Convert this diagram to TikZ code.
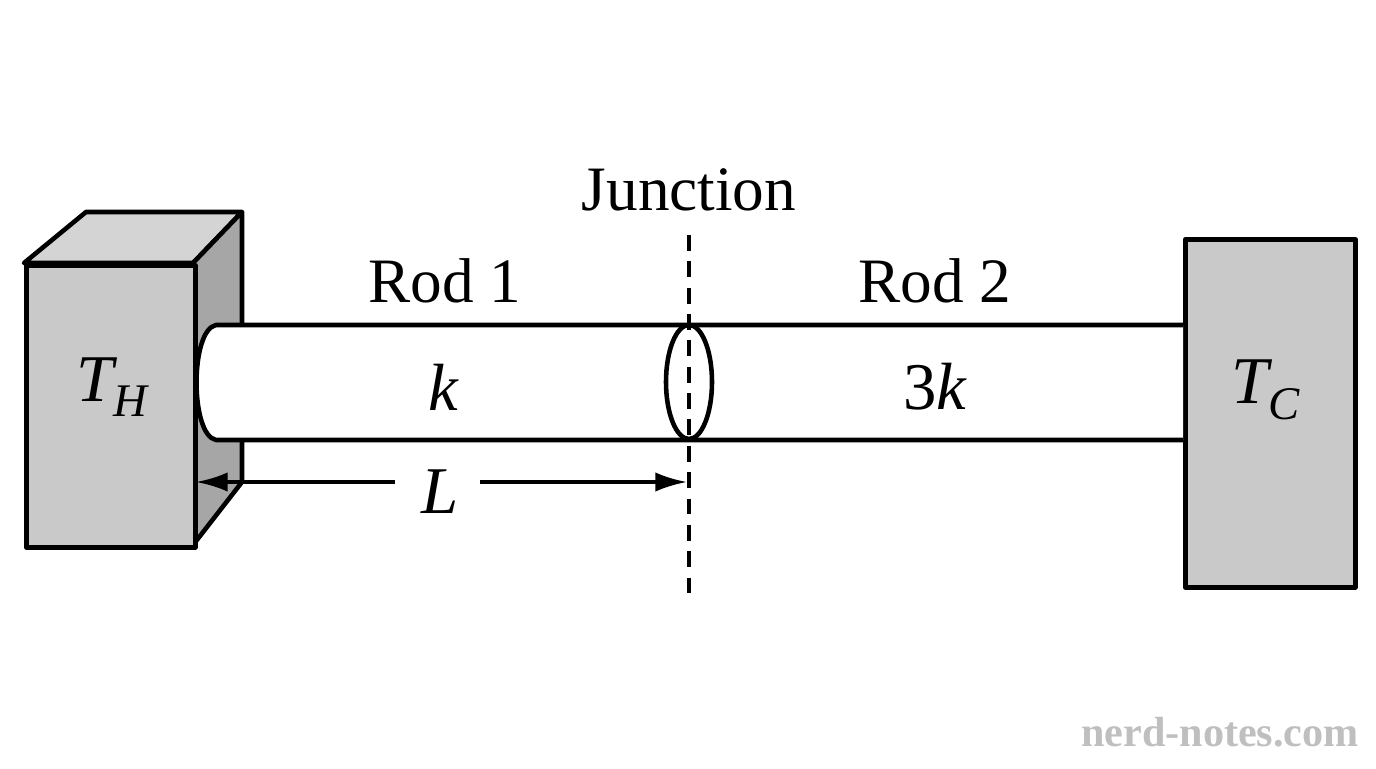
\documentclass[tikz,border=0pt]{standalone}
\usetikzlibrary{shapes.geometric,arrows.meta}
\usepackage{fontspec}
\setmainfont{Liberation Serif}
\begin{document}
\begin{tikzpicture}[x=0.02cm,y=-0.02cm,
  ln/.style={line width=2.6pt,line join=round},
  lbl/.style={font=\fontsize{36}{40}\selectfont,inner sep=0pt},
  it/.style={font=\fontsize{38}{42}\selectfont\itshape,inner sep=0pt}]
\useasboundingbox (0,0) rectangle (1376,768);
% left block
\draw[ln,fill=black!17] (24,263) -- (86,212) -- (242,212) -- (193,263) -- cycle;
\draw[ln,fill=black!35] (193,263) -- (242,212) -- (242,482) -- (193,545) -- cycle;
\node[ln,draw,fill=black!21,minimum width=169*0.02cm,minimum height=282*0.02cm,anchor=north west] (hot) at (24,263) {};
% right block
\node[ln,draw,fill=black!21,minimum width=170*0.02cm,minimum height=348*0.02cm,anchor=north west] (cold) at (1183,237) {};
% rod
\coordinate (rt) at (1183,325);
\coordinate (rb) at (1183,440);
\draw[ln,fill=white] (rt) -- (216,325) .. controls (190,330) and (190,435) .. (216,440) -- (rb);
% junction
\node[ln,draw,ellipse,minimum width=46*0.02cm,minimum height=114*0.02cm,inner sep=0pt] (jn) at (689,382) {};
\coordinate (jt) at (689,235);
\coordinate (jb) at (689,597);
\draw[line width=2pt,dash pattern=on 9pt off 6pt] (jt) -- (jb);
\node[lbl] (jl) at (689,190) {Junction};
\node[lbl] (r1) at (445,281) {Rod 1};
\node[lbl] (r2) at (935,281) {Rod 2};
\node[it] (k1) at (443,387) {k};
\node[font=\fontsize{38}{42}\selectfont,inner sep=0pt] (k2) at (935,387) {3\textit{k}};
\node[it] (th) at (112,387) {T\textsubscript{H}};
\node[it] (tc) at (1266,390) {T\textsubscript{C}};
% dimension
\node[it] (L) at (440,492) {L};
\coordinate (a1) at (196,482);
\coordinate (a2) at (687,482);
\coordinate (lw) at (395,482);
\coordinate (le) at (480,482);
\draw[line width=2pt,-{Latex[length=18pt,width=11pt]}] (lw) -- (a1);
\draw[line width=2pt,-{Latex[length=18pt,width=11pt]}] (le) -- (a2);
\node[font=\fontsize{24}{26}\selectfont\bfseries,text=black!25,inner sep=0pt] (wm) at (1220,732) {nerd-notes.com};
\end{tikzpicture}
\end{document}
